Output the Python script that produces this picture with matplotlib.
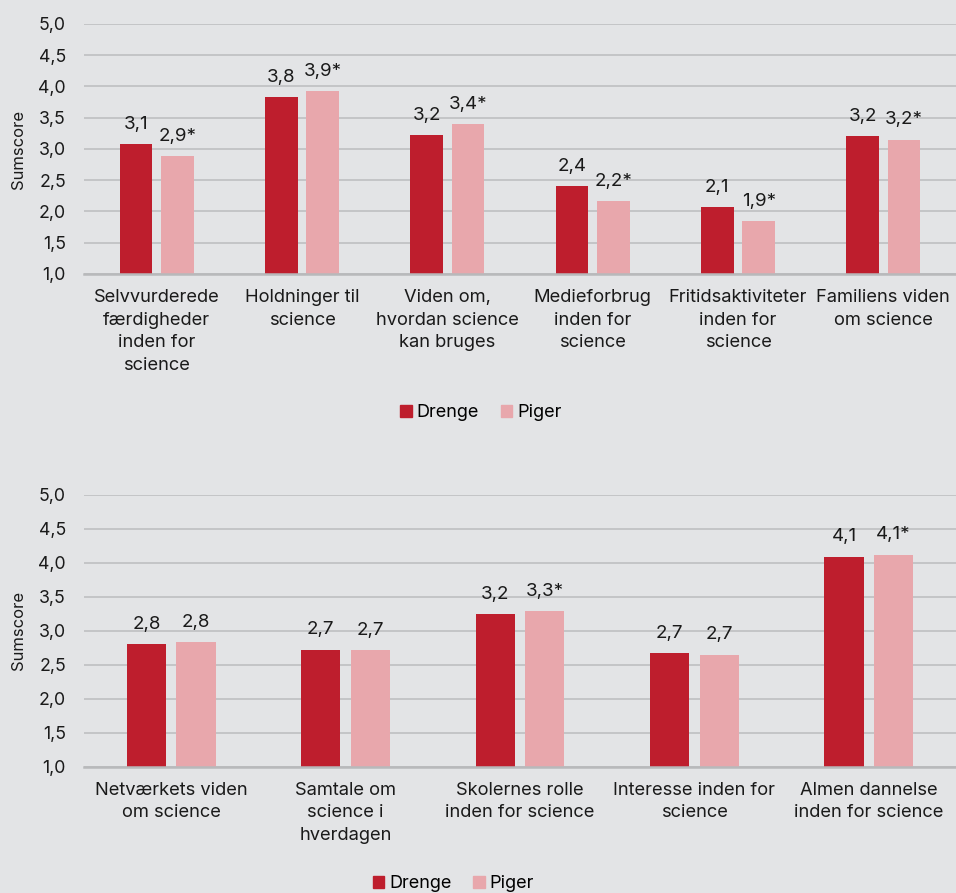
#!/usr/bin/env python3
"""Sumscore for drenge og piger, two grouped bar panels."""

import matplotlib

matplotlib.use("Agg")
import matplotlib.pyplot as plt
import numpy as np
from matplotlib.patches import Patch

plt.rcParams["font.family"] = ["Inter", "DejaVu Sans"]

# --- data ---
top_categories = [
    "Selvvurderede\nfærdigheder\ninden for\nscience",
    "Holdninger til\nscience",
    "Viden om,\nhvordan science\nkan bruges",
    "Medieforbrug\ninden for\nscience",
    "Fritidsaktiviteter\ninden for\nscience",
    "Familiens viden\nom science",
]
top_drenge = [3.08, 3.83, 3.22, 2.41, 2.07, 3.20]
top_piger = [2.89, 3.93, 3.40, 2.16, 1.85, 3.15]
top_drenge_labels = ["3,1", "3,8", "3,2", "2,4", "2,1", "3,2"]
top_piger_labels = ["2,9*", "3,9*", "3,4*", "2,2*", "1,9*", "3,2*"]

bottom_categories = [
    "Netværkets viden\nom science",
    "Samtale om\nscience i\nhverdagen",
    "Skolernes rolle\ninden for science",
    "Interesse inden for\nscience",
    "Almen dannelse\ninden for science",
]
bottom_drenge = [2.80, 2.72, 3.24, 2.67, 4.09]
bottom_piger = [2.83, 2.71, 3.29, 2.65, 4.12]
bottom_drenge_labels = ["2,8", "2,7", "3,2", "2,7", "4,1"]
bottom_piger_labels = ["2,8", "2,7", "3,3*", "2,7", "4,1*"]

y_ticks = [1.0, 1.5, 2.0, 2.5, 3.0, 3.5, 4.0, 4.5, 5.0]

BG = "#E3E4E6"
RED = "#BE1E2D"
PINK = "#E8A7AC"
GRID = "#C4C5C7"


def draw_panel(ax, cats, d_vals, p_vals, d_labels, p_labels):
    x = np.arange(len(cats))
    w = 0.225
    off = 0.142
    ax.set_facecolor(BG)
    b1 = ax.bar(x - off, d_vals, w, bottom=0, color=RED, zorder=3)
    b2 = ax.bar(x + off, p_vals, w, bottom=0, color=PINK, zorder=3)
    for bars, labs in ((b1, d_labels), (b2, p_labels)):
        for r, lab in zip(bars, labs):
            ax.annotate(
                lab,
                (r.get_x() + r.get_width() / 2, r.get_height()),
                xytext=(0, 11),
                textcoords="offset points",
                ha="center",
                va="baseline",
                fontsize=13.5,
                color="#1a1a1a",
            )
    ax.set_ylim(1.0, 5.0)
    ax.set_xlim(-0.5, len(cats) - 0.5)
    ax.set_yticks(y_ticks)
    ax.set_yticklabels([f"{t:.1f}".replace(".", ",") for t in y_ticks])
    ax.set_xticks(x)
    ax.set_xticklabels(cats, linespacing=1.42)
    ax.tick_params(axis="y", length=0, pad=13, labelsize=12.8, labelcolor="#1a1a1a")
    ax.tick_params(axis="x", length=0, pad=11, labelsize=13.2, labelcolor="#1a1a1a")
    for t in ax.get_xticklabels():
        t.set_ha("center")
    ax.yaxis.grid(True, color=GRID, linewidth=1.4, zorder=0)
    ax.set_axisbelow(True)
    for s in ("left", "right", "top"):
        ax.spines[s].set_visible(False)
    ax.spines["bottom"].set_color("#B8B9BB")
    ax.spines["bottom"].set_linewidth(1.8)
    ax.spines["bottom"].set_zorder(4)
    ax.set_ylabel("Sumscore", fontsize=12, color="#1a1a1a", labelpad=9)


fig = plt.figure(figsize=(9.56, 8.93), dpi=100)
fig.patch.set_facecolor(BG)

ax1 = fig.add_axes([0.0879, 0.6932, 0.9121, 0.2800])
draw_panel(ax1, top_categories, top_drenge, top_piger, top_drenge_labels, top_piger_labels)

ax2 = fig.add_axes([0.0879, 0.1414, 0.9121, 0.3046])
draw_panel(ax2, bottom_categories, bottom_drenge, bottom_piger,
           bottom_drenge_labels, bottom_piger_labels)

handles = [Patch(color=RED, label="Drenge"), Patch(color=PINK, label="Piger")]
leg_kw = dict(
    ncol=2,
    frameon=False,
    fontsize=13,
    handlelength=0.65,
    handleheight=0.65,
    handletextpad=0.25,
    columnspacing=1.2,
    loc="center",
)
fig.legend(handles=handles, bbox_to_anchor=(0.503, 1 - 412.5 / 893), **leg_kw)
fig.legend(handles=handles, bbox_to_anchor=(0.474, 1 - 884 / 893), **leg_kw)

fig.savefig("out.png", dpi=100, facecolor=BG)
